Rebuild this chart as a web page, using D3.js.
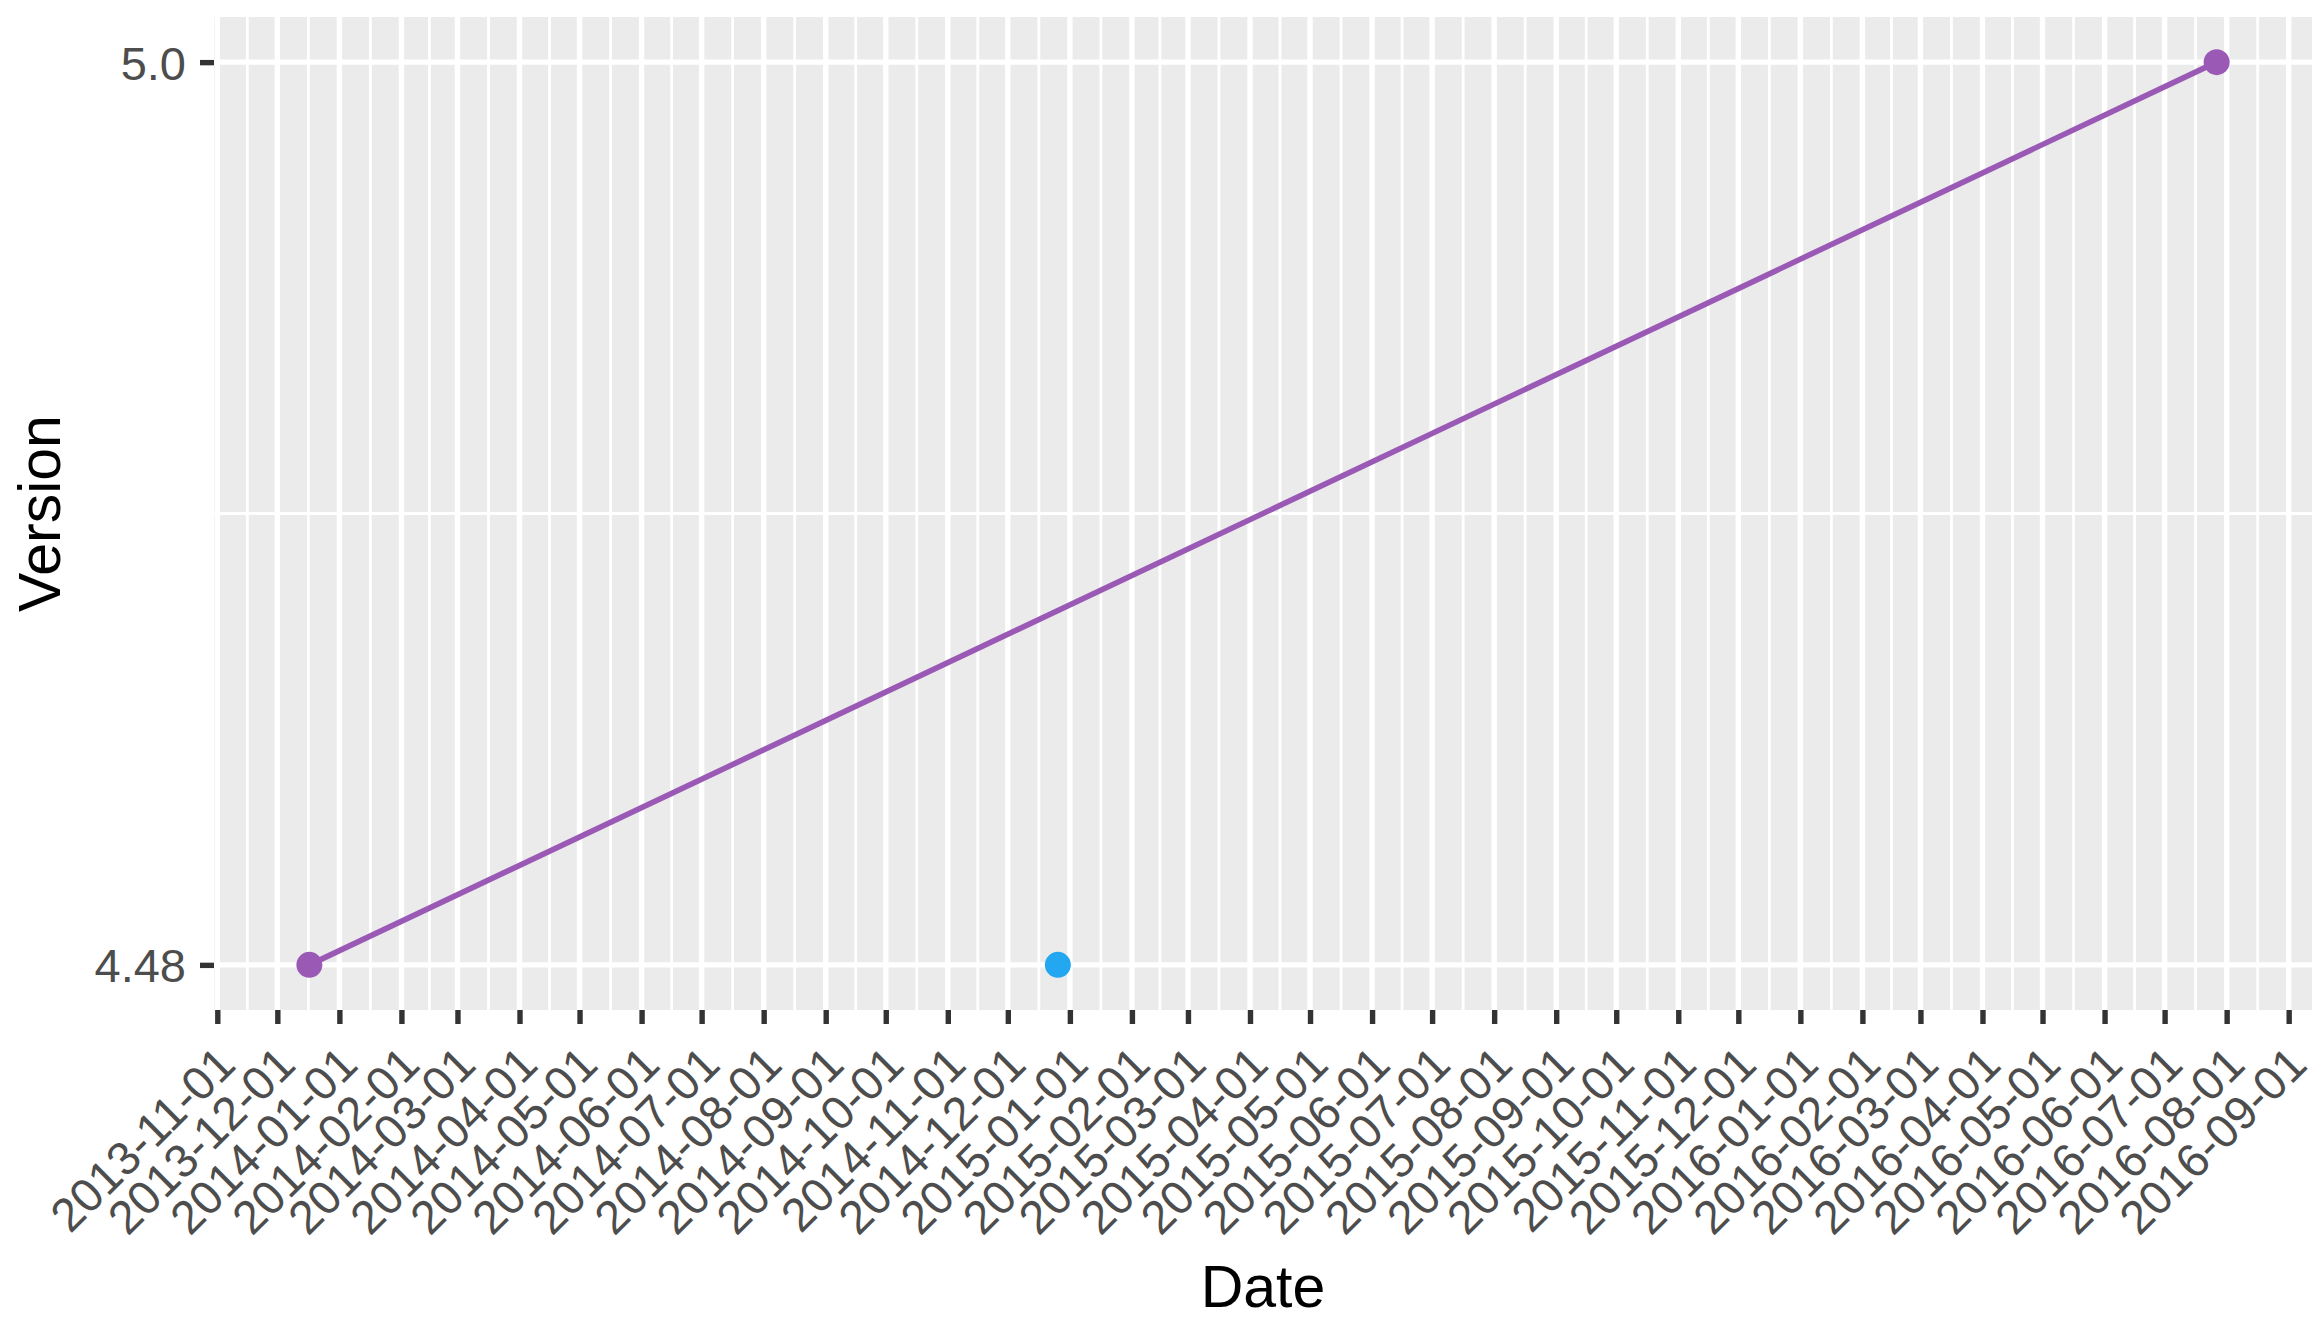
<!DOCTYPE html>
<html>
<head>
<meta charset="utf-8">
<script src="https://cdn.jsdelivr.net/npm/d3@7"></script>
<style>
  html, body { margin: 0; padding: 0; background: #ffffff; }
  svg { display: block; font-family: "Liberation Sans", Arial, Helvetica, sans-serif; }
</style>
</head>
<body>
<svg id="chart" width="2324" height="1331"></svg>
<script>
// ---- data ----
const seriesNames = ["line", "single"];
const lineDates = ["2013-12-17", "2016-07-27"];
const lineVersions = [4.48, 5.0];
const singleDates = ["2014-12-26"];
const singleVersions = [4.48];
const yTickValues = [4.48, 5.0];
const yTickLabels = ["4.48", "5.0"];
const seriesColors = ["#9B59B6", "#22A7F0"];

const parse = d3.timeParse("%Y-%m-%d");
const lineData = lineDates.map((d, i) => ({ date: parse(d), v: lineVersions[i] }));
const singleData = singleDates.map((d, i) => ({ date: parse(d), v: singleVersions[i] }));
const all = lineData.concat(singleData);

// ---- layout ----
const W = 2324, H = 1331;
const panel = { left: 214, right: 2312, top: 17, bottom: 1010 };

const svg = d3.select("#chart");

// ---- scales (ggplot-style 5% expansion) ----
const xExt = d3.extent(all, d => +d.date);
const xPad = (xExt[1] - xExt[0]) * 0.05;
const x = d3.scaleTime()
  .domain([new Date(xExt[0] - xPad), new Date(xExt[1] + xPad)])
  .range([panel.left, panel.right]);

const yExt = d3.extent(all, d => d.v);
const yPad = (yExt[1] - yExt[0]) * 0.05;
const y = d3.scaleLinear()
  .domain([yExt[0] - yPad, yExt[1] + yPad])
  .range([panel.bottom, panel.top]);

// ---- panel background ----
svg.append("rect")
  .attr("x", panel.left).attr("y", panel.top)
  .attr("width", panel.right - panel.left).attr("height", panel.bottom - panel.top)
  .attr("fill", "#EBEBEB");

const xTicks = x.ticks(d3.timeMonth.every(1));
const xMinor = [];
for (let i = 0; i < xTicks.length - 1; i++) {
  xMinor.push(new Date((+xTicks[i] + +xTicks[i + 1]) / 2));
}
const yMinor = [];
for (let i = 0; i < yTickValues.length - 1; i++) {
  yMinor.push((yTickValues[i] + yTickValues[i + 1]) / 2);
}

const grid = svg.append("g");
// minor grid
grid.selectAll("line.xminor").data(xMinor).enter().append("line")
  .attr("x1", d => x(d)).attr("x2", d => x(d))
  .attr("y1", panel.top).attr("y2", panel.bottom)
  .attr("stroke", "#ffffff").attr("stroke-width", 2.8);
grid.selectAll("line.yminor").data(yMinor).enter().append("line")
  .attr("y1", d => y(d)).attr("y2", d => y(d))
  .attr("x1", panel.left).attr("x2", panel.right)
  .attr("stroke", "#ffffff").attr("stroke-width", 2.8);
// major grid
grid.selectAll("line.xmajor").data(xTicks).enter().append("line")
  .attr("x1", d => x(d)).attr("x2", d => x(d))
  .attr("y1", panel.top).attr("y2", panel.bottom)
  .attr("stroke", "#ffffff").attr("stroke-width", 5.4);
grid.selectAll("line.ymajor").data(yTickValues).enter().append("line")
  .attr("y1", d => y(d)).attr("y2", d => y(d))
  .attr("x1", panel.left).attr("x2", panel.right)
  .attr("stroke", "#ffffff").attr("stroke-width", 5.4);

// ---- marks ----
const line = d3.line().x(d => x(d.date)).y(d => y(d.v));
svg.append("path")
  .datum(lineData)
  .attr("d", line)
  .attr("fill", "none")
  .attr("stroke", seriesColors[0])
  .attr("stroke-width", 5.6);

svg.append("g").selectAll("circle").data(lineData).enter().append("circle")
  .attr("cx", d => x(d.date)).attr("cy", d => y(d.v)).attr("r", 13)
  .attr("fill", seriesColors[0]);
svg.append("g").selectAll("circle").data(singleData).enter().append("circle")
  .attr("cx", d => x(d.date)).attr("cy", d => y(d.v)).attr("r", 13)
  .attr("fill", seriesColors[1]);

// ---- axes ----
const fmt = d3.timeFormat("%Y-%m-%d");
const xAxis = d3.axisBottom(x)
  .tickValues(xTicks)
  .tickSize(14)
  .tickFormat(fmt);
const gx = svg.append("g")
  .attr("transform", `translate(0,${panel.bottom})`)
  .call(xAxis);
gx.select(".domain").remove();
gx.selectAll(".tick line").attr("stroke", "#333333").attr("stroke-width", 5.4);
gx.selectAll(".tick text")
  .attr("fill", "#4D4D4D")
  .attr("font-size", 47)
  .attr("text-anchor", "end")
  .attr("dy", null)
  .attr("y", null)
  .attr("transform", "translate(20,57) rotate(-45)");

const yAxis = d3.axisLeft(y)
  .tickValues(yTickValues)
  .tickSize(14)
  .tickFormat((d, i) => yTickLabels[i]);
const gy = svg.append("g")
  .attr("transform", `translate(${panel.left},0)`)
  .call(yAxis);
gy.select(".domain").remove();
gy.selectAll(".tick line").attr("stroke", "#333333").attr("stroke-width", 5.4);
gy.selectAll(".tick text")
  .attr("fill", "#4D4D4D")
  .attr("font-size", 47)
  .attr("x", -28)
  .attr("dy", "0.36em");

// ---- titles ----
svg.append("text")
  .attr("x", (panel.left + panel.right) / 2)
  .attr("y", 1307)
  .attr("text-anchor", "middle")
  .attr("font-size", 59)
  .attr("fill", "#000000")
  .text("Date");

svg.append("text")
  .attr("transform", `translate(60,${(panel.top + panel.bottom) / 2}) rotate(-90)`)
  .attr("text-anchor", "middle")
  .attr("font-size", 59)
  .attr("fill", "#000000")
  .text("Version");
</script>
</body>
</html>
